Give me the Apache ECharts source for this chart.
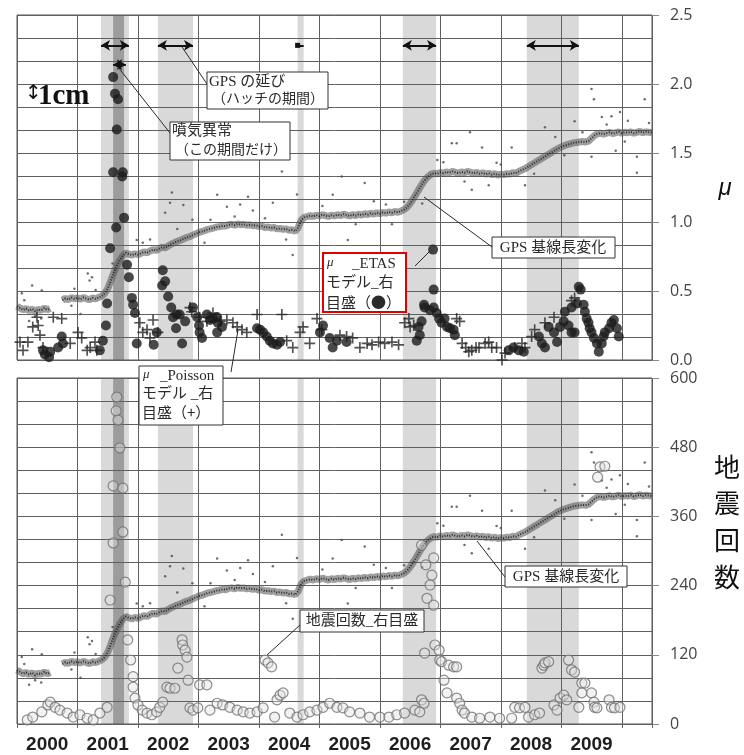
<!DOCTYPE html>
<html>
<head>
<meta charset="utf-8">
<script src="https://cdn.jsdelivr.net/npm/echarts@6/dist/echarts.min.js"></script>
<style>
  html, body { margin: 0; padding: 0; background: #fff; }
  #chart { width: 744px; height: 755px; }
</style>
</head>
<body>
<div id="chart"></div>
<script>
// ---------------------------------------------------------------------------
// Data
// ---------------------------------------------------------------------------
const yearLabels = ['2000', '2001', '2002', '2003', '2004', '2005', '2006', '2007', '2008', '2009'];

// Periods of GPS baseline stretching (hatched bands), decimal years
const hatchPeriods = [
  [2001.39, 2001.85],
  [2002.33, 2002.91],
  [2004.64, 2004.74],
  [2006.38, 2006.93],
  [2008.43, 2009.29]
];
// Fumarole anomaly period (dark band)
const fumarolePeriod = [2001.59, 2001.77];

// GPS baseline length (cm, relative), one reading every 0.05 year from 2000.00
const gpsStart = 2000;
const gpsStep = 0.05;
const gpsCm = [
  1.17, 1.13, 1.09, 1.12, 1.07, 1.11, 1.06, 1.10, 1.08, 1.13, 1.09, 1.12,
  null, null, null,
  1.30, 1.34, 1.31, 1.36, 1.33, 1.35, 1.32, 1.36, 1.33, 1.31, 1.35, 1.33, 1.36, 1.39,
  1.45, 1.55, 1.72, 1.90, 2.05, 2.17, 2.27, 2.33,
  2.30, 2.28, 2.31, 2.29,
  2.32, 2.35, 2.33, 2.37, 2.40, 2.38, 2.42, 2.45, 2.44, 2.48,
  2.52, 2.55, 2.58, 2.60, 2.63, 2.66, 2.68, 2.71, 2.74, 2.77,
  2.79, 2.81, 2.84, 2.85, 2.87, 2.89, 2.90, 2.92, 2.91, 2.94,
  2.95, 2.93, 2.96, 2.94, 2.95, 2.93, 2.94, 2.92, 2.93, 2.90,
  2.91, 2.88, 2.89, 2.87, 2.88, 2.85, 2.86, 2.84, 2.85, 2.82, 2.83, 2.80,
  2.88, 3.04, 3.10, 3.12,
  3.14, 3.12, 3.15, 3.13, 3.16, 3.14, 3.12, 3.15, 3.13, 3.16,
  3.14, 3.17, 3.15, 3.13, 3.16, 3.14, 3.17, 3.15, 3.18, 3.16,
  3.19, 3.17, 3.20, 3.18, 3.21, 3.19, 3.22, 3.20, 3.23, 3.21,
  3.24, 3.27, 3.32, 3.40, 3.50, 3.61, 3.72, 3.83, 3.92, 3.99, 4.04, 4.06, 4.05,
  4.08, 4.06, 4.09, 4.07, 4.10, 4.08, 4.06, 4.09, 4.07, 4.10, 4.08,
  4.06, 4.08, 4.05, 4.07, 4.04, 4.06, 4.03, 4.05, 4.02, 4.04,
  4.03, 4.05, 4.04, 4.07, 4.06, 4.10,
  4.13, 4.16, 4.20, 4.24, 4.28, 4.32, 4.36, 4.40, 4.44, 4.48, 4.52, 4.56, 4.60,
  4.63, 4.66, 4.68, 4.70, 4.72, 4.73, 4.74, 4.75, 4.74, 4.76,
  4.82, 4.88, 4.92, 4.93, 4.91,
  4.93, 4.95, 4.92, 4.94, 4.96, 4.93, 4.95, 4.94, 4.96, 4.93, 4.95, 4.97, 4.94, 4.96, 4.95, 4.94
];

// Scattered GPS readings off the main trend [year, cm]
const gpsOutliers = [
  [2000.25, 1.62], [2000.41, 1.51], [2000.08, 1.45], [2000.20, 0.85], [2000.40, 0.90],
  [2000.95, 1.55], [2001.05, 1.00], [2001.17, 1.88], [2001.20, 1.73], [2001.24, 1.80],
  [2001.98, 2.61], [2002.08, 2.55], [2002.45, 3.20], [2002.53, 3.42], [2002.56, 3.64],
  [2002.75, 3.37], [2002.90, 3.05], [2003.10, 2.55], [2003.31, 3.59], [2003.47, 3.33],
  [2003.69, 3.38], [2003.82, 3.55], [2003.90, 3.25], [2004.23, 3.42], [2004.38, 4.10],
  [2004.56, 2.28], [2004.63, 3.60], [2005.22, 3.59], [2005.37, 3.99], [2005.47, 2.61],
  [2005.75, 3.85], [2005.90, 3.45], [2006.20, 2.95], [2006.40, 3.44], [2006.95, 4.35],
  [2007.19, 4.71], [2007.27, 4.71], [2007.49, 4.95], [2007.52, 3.70], [2007.69, 4.62],
  [2007.80, 3.80], [2007.93, 4.29], [2008.18, 4.62], [2008.40, 3.80], [2008.73, 5.06],
  [2008.90, 4.85], [2009.22, 5.19], [2009.50, 5.89], [2009.50, 4.42], [2009.54, 5.67],
  [2009.67, 5.28], [2009.83, 5.30], [2009.90, 4.55], [2009.97, 5.39], [2010.10, 5.20],
  [2010.25, 4.42], [2010.25, 4.07], [2010.38, 5.67],
  [2000.12, 1.30], [2000.30, 0.95], [2000.90, 1.18], [2001.30, 1.52], [2001.58, 2.10],
  [2002.20, 2.62], [2002.65, 2.85], [2003.20, 3.05], [2003.60, 3.12], [2004.10, 3.08],
  [2004.45, 2.62], [2005.05, 3.35], [2005.60, 2.95], [2006.10, 3.38], [2006.70, 3.40],
  [2007.05, 4.30], [2007.40, 3.88], [2008.00, 4.25], [2008.55, 4.05], [2009.05, 4.45],
  [2009.35, 4.95], [2009.75, 5.12], [2010.05, 4.75], [2010.45, 5.15]
];

// μ from the ETAS model [year, μ]
const etasMu = [
  [2000.43, 0.07], [2000.46, 0.04], [2000.53, 0.02], [2000.55, 0.06], [2000.68, 0.09],
  [2000.74, 0.17], [2000.76, 0.12],
  [2001.37, 0.07], [2001.42, 0.14], [2001.47, 0.25], [2001.49, 0.41], [2001.54, 0.81],
  [2001.64, 0.96], [2001.77, 1.03], [2001.59, 2.05], [2001.62, 1.93], [2001.67, 1.89],
  [2001.65, 1.67], [2001.59, 1.36], [2001.75, 1.36], [2001.74, 1.33],
  [2001.82, 0.69], [2001.85, 0.60], [2001.90, 0.45], [2001.92, 0.40], [2001.95, 0.34],
  [2001.98, 0.12],
  [2002.26, 0.11], [2002.31, 0.20], [2002.41, 0.65], [2002.40, 0.54], [2002.45, 0.57],
  [2002.50, 0.46], [2002.55, 0.38], [2002.58, 0.31], [2002.64, 0.33], [2002.69, 0.33],
  [2002.63, 0.23], [2002.73, 0.12], [2002.78, 0.28], [2002.91, 0.38], [2002.98, 0.31],
  [2003.01, 0.25], [2003.02, 0.20], [2003.06, 0.16], [2003.14, 0.33], [2003.19, 0.29],
  [2003.24, 0.30], [2003.31, 0.31], [2003.32, 0.27], [2003.39, 0.24], [2003.31, 0.20],
  [2003.97, 0.23], [2004.02, 0.22], [2004.07, 0.20], [2004.13, 0.17], [2004.18, 0.14],
  [2004.23, 0.12], [2004.30, 0.11], [2004.35, 0.13],
  [2005.01, 0.20], [2005.06, 0.25], [2005.17, 0.16], [2005.22, 0.09], [2005.29, 0.14],
  [2005.45, 0.13],
  [2006.88, 0.80], [2006.89, 0.51], [2006.73, 0.40], [2006.74, 0.38], [2006.83, 0.36],
  [2006.89, 0.38], [2006.94, 0.34], [2006.98, 0.30], [2007.02, 0.27], [2007.07, 0.30],
  [2007.11, 0.24], [2007.16, 0.23], [2007.22, 0.22], [2007.24, 0.18], [2006.64, 0.24],
  [2006.66, 0.18], [2006.61, 0.14], [2006.69, 0.28],
  [2008.13, 0.07], [2008.21, 0.09], [2008.30, 0.07], [2008.38, 0.06],
  [2008.63, 0.17], [2008.68, 0.12], [2008.73, 0.09], [2008.79, 0.24], [2008.88, 0.20],
  [2008.93, 0.13], [2008.98, 0.24], [2009.04, 0.28], [2009.06, 0.35], [2009.12, 0.25],
  [2009.17, 0.20], [2009.22, 0.20], [2009.17, 0.38], [2009.26, 0.41], [2009.29, 0.53],
  [2009.32, 0.51], [2009.37, 0.40], [2009.39, 0.35], [2009.42, 0.30], [2009.45, 0.27],
  [2009.47, 0.23], [2009.50, 0.20], [2009.54, 0.16], [2009.59, 0.12], [2009.62, 0.06],
  [2009.67, 0.12], [2009.70, 0.17], [2009.72, 0.20], [2009.79, 0.23], [2009.83, 0.27],
  [2009.87, 0.29], [2009.92, 0.23], [2009.95, 0.17]
];

// μ from the Poisson model [year, μ]
const poissonMu = [
  [2000.05, 0.13], [2000.10, 0.07], [2000.18, 0.13], [2000.26, 0.24], [2000.33, 0.31],
  [2000.35, 0.25], [2000.38, 0.18], [2000.43, 0.09], [2000.60, 0.31], [2000.74, 0.30],
  [2000.88, 0.12], [2001.01, 0.20], [2001.07, 0.16], [2001.16, 0.07], [2001.21, 0.09],
  [2001.29, 0.13], [2001.32, 0.07],
  [2002.03, 0.27], [2002.08, 0.20], [2002.15, 0.22], [2002.20, 0.16], [2002.25, 0.29],
  [2002.33, 0.20],
  [2002.86, 0.38], [2002.89, 0.35], [2003.02, 0.31], [2003.14, 0.28], [2003.24, 0.34],
  [2003.36, 0.28], [2003.47, 0.29], [2003.57, 0.27], [2003.64, 0.24], [2003.72, 0.22],
  [2003.80, 0.20], [2003.97, 0.33], [2004.38, 0.33], [2004.46, 0.14], [2004.56, 0.09],
  [2004.68, 0.20], [2004.73, 0.24], [2004.84, 0.12], [2004.96, 0.30], [2005.04, 0.22],
  [2005.22, 0.38], [2005.34, 0.18], [2005.45, 0.17], [2005.55, 0.16], [2005.67, 0.09],
  [2005.79, 0.12], [2005.87, 0.11], [2005.98, 0.13], [2006.08, 0.12], [2006.20, 0.13],
  [2006.31, 0.11], [2006.41, 0.27], [2006.48, 0.30], [2006.50, 0.24], [2006.56, 0.25],
  [2007.27, 0.30], [2007.32, 0.28], [2007.36, 0.12], [2007.42, 0.09], [2007.47, 0.06],
  [2007.52, 0.07], [2007.59, 0.09], [2007.64, 0.09], [2007.74, 0.12], [2007.80, 0.13],
  [2007.85, 0.09], [2007.93, 0.09], [2008.02, 0.00], [2008.07, 0.05], [2008.23, 0.09],
  [2008.35, 0.12], [2008.40, 0.09], [2008.51, 0.17], [2008.56, 0.22], [2008.73, 0.27],
  [2008.88, 0.31], [2009.17, 0.43], [2009.22, 0.45]
];

// Number of earthquakes [year, count]
const quakeCounts = [
  [2000.17, 7], [2000.26, 12], [2000.41, 21], [2000.51, 33], [2000.55, 38], [2000.63, 29],
  [2000.71, 24], [2000.83, 19], [2000.93, 12], [2001.04, 16], [2001.16, 10], [2001.26, 7],
  [2001.37, 19], [2001.49, 29],
  [2001.65, 567], [2001.64, 543], [2001.67, 527], [2001.70, 479], [2001.59, 413],
  [2001.75, 409], [2001.75, 333], [2001.59, 314], [2001.79, 246], [2001.54, 215],
  [2001.83, 146], [2001.88, 111], [2001.92, 82], [2001.92, 64], [2001.95, 45],
  [2002.00, 33], [2002.07, 24], [2002.15, 19], [2002.23, 16], [2002.31, 21], [2002.36, 29],
  [2002.41, 38], [2002.48, 64], [2002.53, 62], [2002.61, 62], [2002.73, 146], [2002.74, 137],
  [2002.78, 128], [2002.81, 116], [2002.66, 97], [2002.83, 76], [2002.86, 28], [2002.91, 24],
  [2002.99, 28], [2003.02, 68], [2003.14, 68], [2003.19, 24], [2003.31, 36], [2003.40, 33],
  [2003.52, 29], [2003.64, 24], [2003.74, 21], [2003.85, 19], [2003.97, 21], [2004.07, 28],
  [2004.10, 111], [2004.15, 106], [2004.21, 99], [2004.26, 12], [2004.30, 42], [2004.35, 50],
  [2004.40, 54], [2004.51, 19], [2004.63, 12], [2004.73, 16], [2004.84, 21], [2004.96, 24],
  [2005.06, 29], [2005.17, 36], [2005.29, 29], [2005.39, 28], [2005.50, 21], [2005.67, 19],
  [2005.83, 12], [2006.00, 12], [2006.15, 12], [2006.28, 16], [2006.41, 19], [2006.58, 24],
  [2006.66, 21], [2006.69, 42], [2006.73, 36], [2006.74, 123], [2006.78, 218], [2006.83, 241],
  [2006.86, 258], [2006.89, 288], [2006.69, 310], [2006.76, 276], [2006.89, 206],
  [2006.91, 137], [2006.98, 128], [2006.99, 111], [2007.02, 108], [2007.14, 102],
  [2007.22, 99], [2007.27, 99], [2007.06, 76], [2007.11, 54], [2007.27, 45], [2007.32, 36],
  [2007.36, 24], [2007.40, 19], [2007.52, 12], [2007.65, 10], [2007.82, 12], [2007.98, 10],
  [2008.18, 10], [2008.23, 29], [2008.31, 28], [2008.40, 29], [2008.46, 12], [2008.56, 16],
  [2008.64, 19], [2008.68, 97], [2008.71, 102], [2008.73, 106], [2008.79, 108],
  [2008.88, 33], [2008.93, 24], [2008.98, 45], [2009.04, 50], [2009.09, 42], [2009.12, 111],
  [2009.17, 94], [2009.22, 90], [2009.29, 29], [2009.34, 71], [2009.39, 71], [2009.34, 54],
  [2009.50, 54], [2009.54, 38], [2009.55, 29], [2009.59, 28], [2009.64, 446], [2009.72, 447],
  [2009.60, 428], [2009.79, 42], [2009.83, 29], [2009.88, 28], [2009.97, 29]
];

// ---------------------------------------------------------------------------
// Chart
// ---------------------------------------------------------------------------
const gridLine = '#606060';
const ink = '#2a2a2a';
const jpFont = '"Liberation Serif", "Noto Sans CJK JP", serif';
const cjkFirst = '"Noto Sans CJK JP", sans-serif';

const gpsSeriesData = gpsCm.map((v, i) => [gpsStart + i * gpsStep, v]);

function frameX(gridIndex, withTicks) {
  return {
    type: 'value', gridIndex, min: 2000, max: 2010.5, interval: 1, z: 4,
    axisLine: { show: false },
    axisTick: { show: withTicks, length: 4, lineStyle: { color: '#666' } },
    axisLabel: { show: false },
    splitLine: { show: true, lineStyle: { color: gridLine, width: 1 } }
  };
}

function gpsAxis(gridIndex) {
  return {
    type: 'value', gridIndex, position: 'left', min: 0, max: 7.5, interval: 0.5, z: 4,
    axisLine: { show: false }, axisTick: { show: false }, axisLabel: { show: false },
    splitLine: { show: true, lineStyle: { color: gridLine, width: 1 } }
  };
}

function rightAxis(gridIndex, max, interval, fmt) {
  return {
    type: 'value', gridIndex, position: 'right', min: 0, max, interval, z: 4,
    axisLine: { show: false },
    axisTick: { show: true, length: 7, lineStyle: { color: '#888' } },
    splitLine: { show: false },
    axisLabel: {
      margin: 18, fontSize: 16, color: '#444', fontFamily: '"Open Sans", sans-serif',
      formatter: fmt
    }
  };
}

function shadingSeries(xAxisIndex, yAxisIndex, yMin) {
  const bands = hatchPeriods.map(p => [{ xAxis: p[0] }, { xAxis: p[1] }]);
  bands.push([{ xAxis: fumarolePeriod[0], itemStyle: { color: '#9c9c9c' } }, { xAxis: fumarolePeriod[1] }]);
  return {
    type: 'line', xAxisIndex, yAxisIndex, data: [[2000, yMin]],
    symbol: 'none', lineStyle: { opacity: 0 }, silent: true, z: 1,
    markArea: { silent: true, itemStyle: { color: '#d9d9d9' }, data: bands }
  };
}

function gpsSeries(xAxisIndex, yAxisIndex) {
  return [
    {
      type: 'line', xAxisIndex, yAxisIndex, data: gpsSeriesData, showSymbol: false,
      connectNulls: false, silent: true, z: 6,
      lineStyle: { width: 7, color: 'rgba(80,80,80,0.55)' }
    },
    {
      type: 'line', xAxisIndex, yAxisIndex, data: gpsSeriesData, showSymbol: false,
      connectNulls: false, silent: true, z: 6,
      lineStyle: { width: 2, color: 'rgba(25,25,25,0.85)', type: [1, 1.6] }
    },
    {
      type: 'scatter', xAxisIndex, yAxisIndex, data: gpsOutliers, symbolSize: 2.5,
      silent: true, z: 6, itemStyle: { color: '#4a4a4a' }
    }
  ];
}

// Double-headed arrows over each hatched period; very short periods get a small block
const arrowLines = hatchPeriods.map(p => (p[1] - p[0] < 0.2)
  ? [{ coord: [p[0], 2.28], symbol: 'rect', symbolSize: 5 }, { coord: [p[1], 2.28], symbol: 'none' }]
  : [{ coord: [p[0], 2.28] }, { coord: [p[1], 2.28] }]);
arrowLines.push([{ coord: [fumarolePeriod[0], 2.14] }, { coord: [fumarolePeriod[1] + 0.03, 2.14] }]);

const plusSymbol = 'path://M4.25,0H5.75V4.25H10V5.75H5.75V10H4.25V5.75H0V4.25H4.25Z';

// Annotation helpers
function box(x, y, w, h, stroke, lw) {
  return { type: 'rect', shape: { x, y, width: w, height: h }, style: { fill: '#fff', stroke, lineWidth: lw }, z: 100 };
}
function txt(x, y, s, size, extra) {
  return {
    type: 'text', x, y, z: 101,
    style: Object.assign({ text: s, fontSize: size, fontFamily: jpFont, fill: ink, verticalAlign: 'middle', align: 'left' }, extra || {})
  };
}
function lead(x1, y1, x2, y2) {
  return { type: 'line', shape: { x1, y1, x2, y2 }, style: { stroke: ink, lineWidth: 1 }, z: 99 };
}

const chart = echarts.init(document.getElementById('chart'), null, { renderer: 'canvas' });

chart.setOption({
  animation: false,
  backgroundColor: '#fff',
  grid: [
    { left: 17, top: 15, width: 635, height: 345, show: true, borderColor: '#555', borderWidth: 1, backgroundColor: 'transparent', z: 4 },
    { left: 17, top: 378, width: 635, height: 346, show: true, borderColor: '#555', borderWidth: 1, backgroundColor: 'transparent', z: 4 }
  ],
  xAxis: [
    frameX(0, false),
    frameX(1, true),
    {
      type: 'value', gridIndex: 1, position: 'bottom', min: 2000, max: 2010.5, interval: 0.5,
      axisLine: { show: false }, axisTick: { show: false }, splitLine: { show: false },
      axisLabel: {
        margin: 11, fontSize: 19, fontWeight: 'bold', color: '#1e1e1e',
        fontFamily: '"Liberation Sans", Arial, sans-serif',
        formatter: v => {
          const half = Math.round(v * 2);
          return (half % 2 === 1 && v < 2010) ? yearLabels[Math.floor(v) - 2000] : '';
        }
      }
    }
  ],
  yAxis: [
    gpsAxis(0),
    rightAxis(0, 2.5, 0.5, v => v.toFixed(1)),
    gpsAxis(1),
    rightAxis(1, 600, 120, v => String(v))
  ],
  series: [
    shadingSeries(0, 1, 0),
    ...gpsSeries(0, 0),
    {
      type: 'scatter', xAxisIndex: 0, yAxisIndex: 1, data: poissonMu,
      symbol: plusSymbol, symbolSize: 11, z: 7, silent: true,
      itemStyle: { color: '#262626' }
    },
    {
      type: 'scatter', xAxisIndex: 0, yAxisIndex: 1, data: etasMu,
      symbol: 'circle', symbolSize: 10, z: 8, silent: true,
      itemStyle: { color: '#1b1b1b' },
      markLine: {
        silent: true, symbol: ['arrow', 'arrow'], symbolSize: [8, 9],
        label: { show: false },
        lineStyle: { color: '#111', width: 2, type: 'solid' },
        data: arrowLines
      }
    },
    shadingSeries(1, 3, 0),
    ...gpsSeries(1, 2),
    {
      type: 'scatter', xAxisIndex: 1, yAxisIndex: 3, data: quakeCounts,
      symbol: 'circle', symbolSize: 10, z: 7, silent: true,
      itemStyle: { color: 'rgba(225,225,225,0.55)', borderColor: '#707070', borderWidth: 1.2 }
    }
  ],
  graphic: [
    // 1 cm scale
    { type: 'text', x: 25, y: 94, z: 101, style: { text: '↕', fontSize: 20, fontFamily: '"DejaVu Sans", sans-serif', fill: '#111', verticalAlign: 'middle' } },
    { type: 'text', x: 38, y: 97, z: 101, style: { text: '1cm', fontSize: 29, fontWeight: 'bold', fontFamily: '"Liberation Serif", serif', fill: '#111', verticalAlign: 'middle' } },

    // GPS stretch note
    lead(182, 47, 207, 84),
    box(207, 72, 121, 37, '#333', 1),
    txt(209, 82, 'GPS の延び', 15),
    txt(212, 99, '（ハッチの期間）', 14),

    // Fumarole note
    lead(118, 67, 170, 133),
    box(170, 122, 120, 38, '#333', 1),
    txt(172, 131, '噴気異常', 15),
    txt(175, 150, '（この期間だけ）', 14),

    // ETAS note
    lead(415, 266, 430, 251),
    box(323, 253, 83, 59, '#e00000', 2),
    txt(327, 263, 'μ', 13, { fontStyle: 'italic' }),
    txt(352, 264, '_ETAS', 15),
    txt(326, 283, 'モデル_右', 15),
    txt(326, 302, '目盛（●）', 15, { fontFamily: cjkFirst }),

    // GPS baseline note (upper panel)
    lead(424, 197, 492, 247),
    box(492, 237, 123, 21, '#333', 1),
    txt(553, 248, 'GPS 基線長変化', 15, { align: 'center' }),

    // Poisson note
    lead(238, 330, 231, 372),
    box(139, 366, 84, 59, '#333', 1),
    txt(143, 375, 'μ', 13, { fontStyle: 'italic' }),
    txt(160, 376, '_Poisson', 15),
    txt(142, 394, 'モデル _右', 15),
    txt(142, 412, '目盛（+）', 15, { fontFamily: cjkFirst }),

    // Earthquake count note
    lead(267, 655, 300, 625),
    box(300, 610, 124, 22, '#333', 1),
    txt(362, 621, '地震回数_右目盛', 15, { align: 'center' }),

    // GPS baseline note (lower panel)
    lead(477, 541, 505, 577),
    box(505, 566, 122, 21, '#333', 1),
    txt(566, 577, 'GPS 基線長変化', 15, { align: 'center' }),

    // Right-hand axis titles
    { type: 'text', x: 725, y: 188, z: 101, style: { text: 'μ', fontSize: 24, fontStyle: 'italic', fontFamily: '"Liberation Sans", sans-serif', fill: '#111', align: 'center', verticalAlign: 'middle' } },
    { type: 'text', x: 727, y: 467, z: 101, style: { text: '地', fontSize: 26, fontFamily: cjkFirst, fill: '#111', align: 'center', verticalAlign: 'middle' } },
    { type: 'text', x: 727, y: 503, z: 101, style: { text: '震', fontSize: 26, fontFamily: cjkFirst, fill: '#111', align: 'center', verticalAlign: 'middle' } },
    { type: 'text', x: 727, y: 540, z: 101, style: { text: '回', fontSize: 26, fontFamily: cjkFirst, fill: '#111', align: 'center', verticalAlign: 'middle' } },
    { type: 'text', x: 727, y: 577, z: 101, style: { text: '数', fontSize: 26, fontFamily: cjkFirst, fill: '#111', align: 'center', verticalAlign: 'middle' } }
  ]
});
</script>
</body>
</html>
